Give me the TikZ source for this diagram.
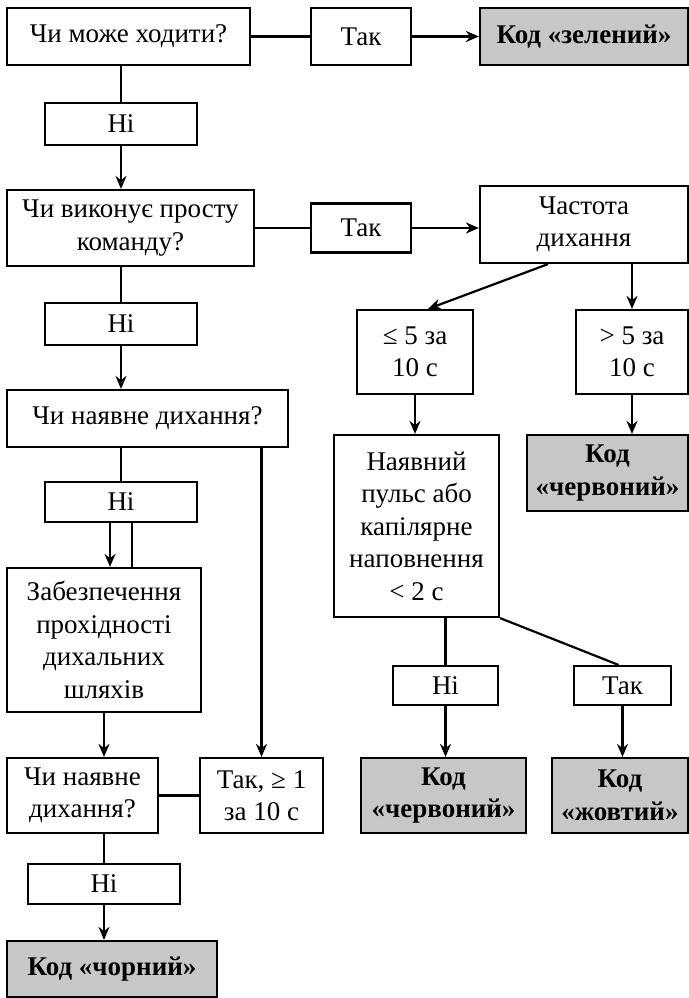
\documentclass[tikz,border=0pt]{standalone}
\usepackage{fontspec}
\setmainfont{Liberation Serif}
\usetikzlibrary{arrows.meta}
\usetikzlibrary{positioning}
\definecolor{codegray}{gray}{0.78}

\begin{document}
\begin{tikzpicture}[->,>={Stealth[length=6.5pt,width=5.5pt]},line width=1.1pt,x=0.5pt,y=-0.5pt]
\tikzstyle{b}=[draw,align=center,inner sep=0pt,font=\fontsize{13.5}{16.25}\selectfont]
\tikzstyle{code}=[b,fill=codegray,font=\fontsize{13.5}{16.25}\selectfont\bfseries]
\useasboundingbox (0,0) rectangle (689,998);

\node[b, minimum width=121.5pt, minimum height=28.5pt]	(A)	at (128.5,36.5)	{Чи може ходити?};
\node[b, minimum width=50pt, minimum height=28.5pt]	(Tak1)	at (361,36.5)	{Так};
\node[code, minimum width=104pt, minimum height=28.5pt]	(Green)	at (584,36.5)	{Код «зелений»};
\node[b, minimum width=76pt, minimum height=21pt]	(Ni1)	at (121,124)	{Ні};
\node[b, minimum width=123.5pt, minimum height=38pt]	(B)	at (130.5,228)	{Чи виконує просту\\команду?};
\node[b, minimum width=50pt, minimum height=24.5pt]	(Tak2)	at (361,228)	{Так};
\node[b, minimum width=104pt, minimum height=38.5pt]	(Chast)	at (584,224.5)	{Частота\\дихання};
\node[b, minimum width=76pt, minimum height=21pt]	(Ni2)	at (121,324)	{Ні};
\node[b, minimum width=140.5pt, minimum height=28.5pt]	(C)	at (147.5,418.5)	{Чи наявне дихання?};
\node[b, minimum width=58pt, minimum height=42pt]	(Le5)	at (415,352)	{≤ 5 за\\10 с};
\node[b, minimum width=56pt, minimum height=42pt]	(Gt5)	at (632,352)	{> 5 за\\10 с};
\node[b, minimum width=76pt, minimum height=20pt]	(Ni3)	at (121,502)	{Ні};
\node[b, minimum width=82.5pt, minimum height=91pt]	(Pulse)	at (416.5,526)	{Наявний\\пульс або\\капілярне\\наповнення\\< 2 с};
\node[code, minimum width=80.5pt, minimum height=38pt]	(Red1)	at (607.5,473)	{Код\\«червоний»};
\node[b, minimum width=97pt, minimum height=72pt]	(D)	at (104,640)	{Забезпечення\\прохідності\\дихальних\\шляхів};
\node[b, minimum width=52.5pt, minimum height=19.5pt]	(Ni5)	at (445.5,685.5)	{Ні};
\node[b, minimum width=48.5pt, minimum height=19.5pt]	(Tak5)	at (622.5,685.5)	{Так};
\node[b, minimum width=75.5pt, minimum height=37.5pt]	(E)	at (82.5,795.5)	{Чи наявне\\дихання?};
\node[b, minimum width=61.5pt, minimum height=37.5pt]	(F)	at (261.5,795.5)	{Так, ≥ 1\\за 10 с};
\node[code, minimum width=82.5pt, minimum height=37.5pt]	(Red2)	at (443.5,795.5)	{Код\\«червоний»};
\node[code, minimum width=68pt, minimum height=37.5pt]	(Yellow)	at (620,795.5)	{Код\\«жовтий»};
\node[b, minimum width=76pt, minimum height=20pt]	(Ni4)	at (104,884)	{Ні};
\node[code, minimum width=105pt, minimum height=28pt]	(Black)	at (112,969)	{Код «чорний»};

\path(A.east)		edge[-]	(Tak1.west)
	 (Tak1.east)		edge		(Green.west)
	 (Ni1.north |- A.south)	edge[-]	(Ni1.north)
	 (Ni1.south)		edge		(Ni1.south |- B.north)
	 (B.east)		edge[-]	(Tak2.west)
	 (Tak2.east)		edge		(Tak2.east -| Chast.west)
	 (Ni2.north |- B.south)	edge[-]	(Ni2.north)
	 (Ni2.south)		edge		(Ni2.south |- C.north)
	 (Ni3.north |- C.south)	edge[-]	(Ni3.north)
	 ([xshift=-5.5pt]Ni3.south)	edge	([xshift=-5.5pt]Ni3.south |- D.north)
	 ([xshift=5.5pt]Ni3.south)	edge[-]	([xshift=5.5pt]Ni3.south |- D.north)
	 (F.north |- C.south)	edge		(F.north)
	 (D.south)		edge		(D.south |- E.north)
	 (E.east)		edge[-]	(F.west)
	 (Ni4.north |- E.south)	edge[-]	(Ni4.north)
	 (Ni4.south)		edge		(Ni4.south |- Black.north)
	 ([xshift=-18pt]Chast.south)	edge	([xshift=6.5pt]Le5.north)
	 (Gt5.north |- Chast.south)	edge	(Gt5.north)
	 (Le5.south)		edge		(Le5.south |- Pulse.north)
	 (Gt5.south)		edge		(Gt5.south |- Red1.north)
	 (Ni5.north |- Pulse.south)	edge[-]	(Ni5.north)
	 (Pulse.south east)	edge[-]	([xshift=-2pt]Tak5.north)
	 (Ni5.south)		edge		(Ni5.south |- Red2.north)
	 (Tak5.south)		edge		(Tak5.south |- Yellow.north);
\end{tikzpicture}
\end{document}
